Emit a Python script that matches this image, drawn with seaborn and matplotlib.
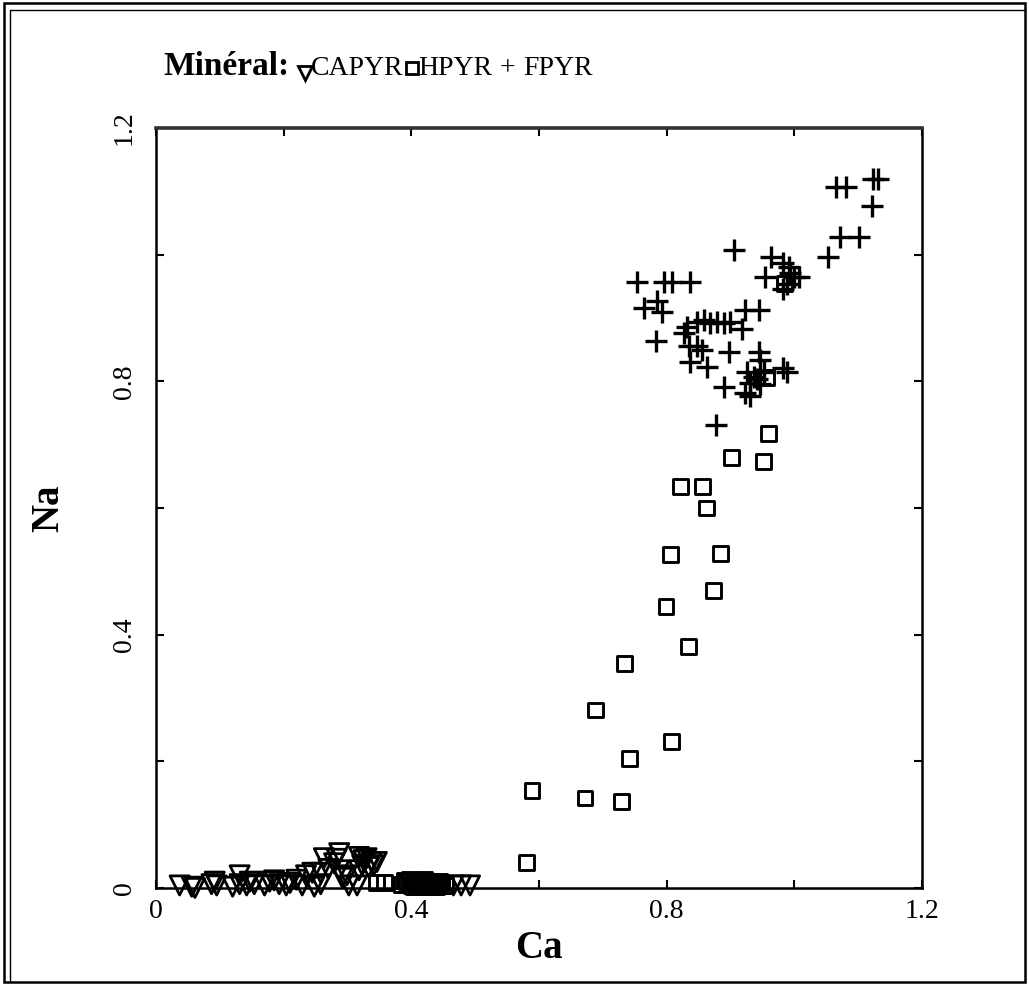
import numpy as np
import pandas as pd
import matplotlib
matplotlib.use('Agg')
import matplotlib.pyplot as plt
import seaborn as sns
from matplotlib.lines import Line2D
from matplotlib.patches import Rectangle


# ----------------------------------------
# DATA
# ----------------------------------------

# CAPYR - triangles, all close to Na = 0
capyr_ca = [0.037, 0.056, 0.061, 0.087, 0.095, 0.120, 0.131, 0.142, 0.154, 0.193,
            0.204, 0.229, 0.248, 0.258, 0.302, 0.315, 0.466, 0.478, 0.492,
            0.131, 0.092, 0.220, 0.235, 0.245, 0.258, 0.263, 0.287, 0.279, 0.287,
            0.299, 0.318, 0.330, 0.338, 0.346, 0.323, 0.333, 0.318, 0.292,
            0.170, 0.178, 0.210, 0.147, 0.185, 0.270, 0.283, 0.325, 0.341]
capyr_na = [0.004, 0.002, 0.000, 0.006, 0.004, 0.002, 0.006, 0.004, 0.006, 0.006,
            0.004, 0.004, 0.002, 0.006, 0.004, 0.004, 0.004, 0.004, 0.004,
            0.020, 0.010, 0.013, 0.020, 0.024, 0.024, 0.047, 0.055, 0.039, 0.028,
            0.020, 0.049, 0.047, 0.041, 0.041, 0.036, 0.033, 0.028, 0.016,
            0.004, 0.010, 0.008, 0.010, 0.012, 0.030, 0.046, 0.044, 0.036]

# HPYR - squares
hpyr_ca = [0.960, 0.901, 0.952, 0.821, 0.856, 0.863, 0.806, 0.884, 0.874, 0.799,
           0.834, 0.734, 0.689, 0.807, 0.742, 0.589, 0.672, 0.729, 0.580,
           0.346, 0.358, 0.385, 0.392, 0.400, 0.406, 0.412, 0.418, 0.424, 0.430,
           0.436, 0.442, 0.448, 0.453, 0.956, 0.985,
           0.389, 0.397, 0.403, 0.409, 0.415, 0.421, 0.427, 0.433, 0.439, 0.445]
hpyr_na = [0.717, 0.679, 0.673, 0.634, 0.634, 0.600, 0.526, 0.528, 0.469, 0.444,
           0.381, 0.354, 0.281, 0.231, 0.205, 0.154, 0.142, 0.137, 0.040,
           0.008, 0.008, 0.006, 0.010, 0.004, 0.008, 0.006, 0.010, 0.004, 0.008,
           0.006, 0.004, 0.008, 0.004, 0.806, 0.955,
           0.012, 0.014, 0.002, 0.012, 0.002, 0.013, 0.002, 0.011, 0.003, 0.010]

# FPYR - plus signs
fpyr_ca = [1.066, 1.081, 1.123, 1.131, 1.122, 1.071, 1.102, 1.052,
           0.905, 0.963, 0.983, 0.991, 0.993, 1.000, 1.007, 0.954, 0.988, 0.983,
           0.754, 0.796, 0.809, 0.837,
           0.765, 0.785, 0.793, 0.784, 0.832, 0.827,
           0.847, 0.859, 0.868, 0.879, 0.890, 0.899,
           0.923, 0.944, 0.918, 0.835, 0.848, 0.856, 0.837, 0.863, 0.898,
           0.944, 0.946, 0.890,
           0.926, 0.937, 0.941, 0.930, 0.946, 0.923, 0.930, 0.952, 0.983, 0.988,
           0.877]
fpyr_na = [1.107, 1.107, 1.120, 1.120, 1.076, 1.028, 1.028, 0.997,
           1.008, 0.997, 0.987, 0.981, 0.971, 0.964, 0.964, 0.964, 0.953, 0.945,
           0.956, 0.957, 0.957, 0.957,
           0.915, 0.926, 0.910, 0.863, 0.886, 0.877,
           0.894, 0.896, 0.892, 0.894, 0.892, 0.894,
           0.913, 0.913, 0.882, 0.855, 0.855, 0.850, 0.831, 0.823, 0.847,
           0.847, 0.834, 0.791,
           0.815, 0.807, 0.803, 0.798, 0.795, 0.782, 0.776, 0.814, 0.821, 0.815,
           0.731]

tick_vals = [0, 0.2, 0.4, 0.6, 0.8, 1.0, 1.2]
tick_labels = ['0', '', '0.4', '', '0.8', '', '1.2']


sns.set_theme(style='ticks')
plt.rcParams['font.family'] = ['Liberation Serif', 'DejaVu Serif']
plt.rcParams['text.color'] = 'black'
plt.rcParams['axes.labelcolor'] = 'black'

fig = plt.figure(figsize=(10.29, 9.85), dpi=100)
ax = fig.add_axes([0.1516, 0.0985, 0.7444, 0.7716])

# triangles and squares: open markers
sns.scatterplot(x=capyr_ca, y=capyr_na, marker='v', s=190, facecolor='none',
                edgecolor='black', linewidth=2.0, ax=ax, clip_on=False, zorder=3)
sns.scatterplot(x=hpyr_ca, y=hpyr_na, marker='s', s=115, facecolor='none',
                edgecolor='black', linewidth=2.1, ax=ax, clip_on=False, zorder=3)
sns.scatterplot(x=fpyr_ca, y=fpyr_na, marker='+', s=240, color='black',
                linewidth=2.4, ax=ax, clip_on=False, zorder=3)

ax.set_xlim(0, 1.2)
ax.set_ylim(0, 1.2)
ax.set_xticks(tick_vals)
ax.set_xticklabels(tick_labels)
ax.set_yticks(tick_vals)
ax.set_yticklabels(tick_labels)
ax.tick_params(direction='in', length=6, width=1.5, top=True, right=True,
               bottom=True, left=True, labelsize=20, colors='black')
ax.tick_params(axis='x', pad=8)
ax.tick_params(axis='y', pad=14)
for lbl in ax.get_yticklabels():
    lbl.set_rotation(90)
    lbl.set_va('center')

for sp in ax.spines.values():
    sp.set_linewidth(1.8)
    sp.set_color('black')
ax.spines['top'].set_linewidth(2.6)
ax.spines['top'].set_color('#333333')

ax.set_xlabel('Ca', fontsize=28, fontweight='bold', labelpad=4)
ax.set_ylabel('Na', fontsize=28, fontweight='bold', labelpad=32)

# ----------------------------------------
# TITLE LINE WITH MARKER KEYS
# ----------------------------------------
renderer = fig.canvas.get_renderer()
W, H = fig.bbox.width, fig.bbox.height
yb = 1 - 75 / H

def put_text(x, s, **kw):
    t = fig.text(x, yb, s, va='baseline', ha='left', color='black', **kw)
    return t.get_window_extent(renderer).x1 / W

def put_marker(x, y_px, m, ms):
    fig.add_artist(Line2D([x], [1 - y_px / H], transform=fig.transFigure,
                          marker=m, markersize=ms, markerfacecolor='none',
                          markeredgecolor='black', markeredgewidth=2.0,
                          linestyle='none'))

x = put_text(163 / W, 'Minéral:', fontsize=24, fontweight='bold')
put_marker(x + 16 / W, 73, 'v', 10)
x = put_text(x + 22 / W, 'CAPYR', fontsize=20)
put_marker(x + 8 / W, 68, 's', 9)
x = put_text(x + 14 / W, 'HPYR', fontsize=20)
x = put_text(x + 8 / W, '+', fontsize=20)
x = put_text(x + 8 / W, 'FPYR', fontsize=20)

# double frame round the whole figure
fig.add_artist(Rectangle((4 / W, 3 / H), 1021 / W, 979 / H, transform=fig.transFigure,
                         fill=False, lw=1.8, edgecolor='black'))
fig.add_artist(Line2D([10 / W, 10 / W], [3 / H, 1 - 10 / H], transform=fig.transFigure,
                      color='black', lw=1.0))
fig.add_artist(Line2D([10 / W, 1025 / W], [1 - 10 / H, 1 - 10 / H], transform=fig.transFigure,
                      color='black', lw=1.0))

fig.savefig('out.png', dpi=100)
